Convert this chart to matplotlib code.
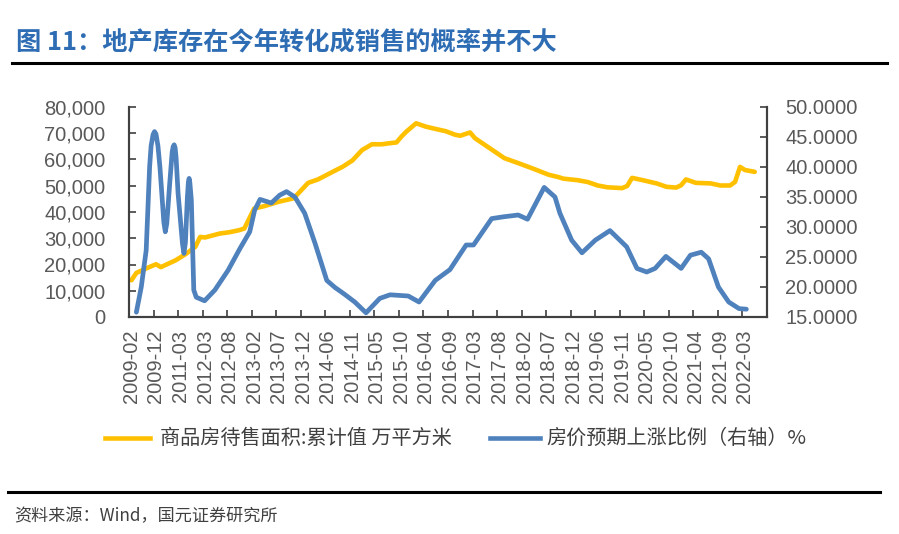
import matplotlib
matplotlib.use("Agg")
import matplotlib.pyplot as plt
from matplotlib.lines import Line2D
from matplotlib.ticker import FuncFormatter, FixedLocator

plt.rcParams['font.family'] = ['Noto Sans CJK SC', 'DejaVu Sans']

# ---- data ----
tick_labels = ["2009-02", "2009-12", "2011-03", "2012-03", "2012-08", "2013-02", "2013-07",
               "2013-12", "2014-06", "2014-11", "2015-05", "2015-10", "2016-04", "2016-09",
               "2017-03", "2017-08", "2018-02", "2018-07", "2018-12", "2019-06", "2019-11",
               "2020-05", "2020-10", "2021-04", "2021-09", "2022-03"]
n_categories = 130
label_step = 5

# inventory (left axis), category index -> value (10k sqm)
inv_cat = [0, 1, 3, 5, 6, 9, 11, 13, 14, 15, 18, 20, 22, 23, 25, 27, 30, 33, 34, 36, 38, 41,
           43, 45, 47, 49, 51, 53, 54, 55, 56, 58, 60, 63, 64, 66, 67, 69, 70, 73, 76, 79,
           82, 85, 87, 88, 91, 93, 95, 97, 100, 101, 102, 104, 107, 109, 111, 112, 113, 115,
           118, 120, 122, 123, 124, 125, 127]
inv_val = [14000, 16800, 18500, 20100, 19000, 21600, 23900, 26700, 30500, 30300, 31800, 32300,
           33100, 33700, 41300, 42200, 43900, 45200, 47100, 51100, 52400, 55300, 57200, 59600,
           63600, 65800, 65800, 66300, 66500, 68700, 70600, 73800, 72500, 71200, 70800, 69400,
           69050, 70300, 68100, 64300, 60500, 58500, 56400, 54200, 53300, 52700, 52100, 51400,
           50100, 49400, 49100, 49900, 53000, 52200, 50900, 49600, 49300, 50200, 52400, 51100,
           50900, 50100, 50100, 51500, 57200, 56000, 55300]

# expected price rise share (right axis), category index -> %
exp_cat = [1, 2, 3, 3.7, 4.0, 4.4, 4.7, 5.0, 5.4, 5.8, 6.6, 6.9, 7.2, 7.8, 8.3, 8.5, 8.7, 8.9,
           9.1, 9.5, 10.4, 10.7, 11.0, 11.4, 11.6, 11.75, 11.9, 12.2, 12.7, 13.2, 14.9, 17,
           19.7, 22.1, 24.1, 25.1, 26.2, 28.5, 30.2, 31.6, 33.3, 35.3, 37.4, 39.8, 41.5, 43.4,
           45.5, 47.8, 50.6, 52.7, 56.4, 58.6, 61.9, 64.9, 68.2, 69.7, 73.4, 75.8, 78.8, 80.7,
           84.1, 86.3, 87.3, 89.7, 91.8, 94.5, 97.5, 100.9, 103, 105, 106.7, 108.9, 112, 113.9,
           116.1, 117.6, 119.6, 121.7, 123.8, 125.3]
exp_val = [15.8, 20.0, 26.1, 40.0, 43.5, 45.4, 45.9, 45.5, 43.5, 40.0, 30.8, 29.2, 30.6, 37.3,
           42.5, 43.4, 43.7, 43.2, 41.5, 35.6, 27.2, 25.6, 27.5, 35.0, 37.5, 38.1, 37.4, 34.5,
           19.5, 18.3, 17.7, 19.5, 22.8, 26.4, 29.2, 32.8, 34.6, 34.0, 35.3, 35.9, 35.0, 32.3,
           27.3, 21.1, 19.9, 18.8, 17.5, 15.7, 18.1, 18.7, 18.5, 17.5, 21.1, 22.9, 27.0, 27.0,
           31.4, 31.7, 32.0, 31.3, 36.6, 35.0, 32.3, 27.8, 25.7, 27.8, 29.4, 26.7, 23.1, 22.5,
           23.1, 25.1, 23.1, 25.3, 25.8, 24.7, 20.0, 17.5, 16.4, 16.3]

title = "图 11：地产库存在今年转化成销售的概率并不大"
legend_inv = "商品房待售面积:累计值 万平方米"
legend_exp = "房价预期上涨比例（右轴）%"
source = "资料来源：Wind，国元证券研究所"

# ---- style ----
YELLOW = "#FFC000"
BLUE = "#4F81BD"
TICK_COLOR = "#595959"
AXIS_COLOR = "#404040"

W, H = 899, 534
fig = plt.figure(figsize=(W / 100, H / 100), dpi=100)
ax = fig.add_axes([129 / W, 1 - 317 / H, (767 - 129) / W, (317 - 107) / H])
ax2 = ax.twinx()

ax.plot(inv_cat, inv_val, color=YELLOW, lw=3.3, solid_joinstyle='round', solid_capstyle='round', zorder=2)
ax2.plot(exp_cat, exp_val, color=BLUE, lw=3.4, solid_joinstyle='round', solid_capstyle='round', zorder=3)

ax.set_xlim(-0.5, n_categories - 0.5)
ax.set_ylim(0, 80000)
ax2.set_ylim(15, 50)
ax.set_yticks(range(0, 80001, 10000))
ax2.set_yticks(range(15, 51, 5))
ax.yaxis.set_major_formatter(FuncFormatter(lambda v, p: f"{int(v):,}"))
ax2.yaxis.set_major_formatter(FuncFormatter(lambda v, p: f"{v:.4f}"))

major = [i * label_step for i in range(len(tick_labels))]
ax.xaxis.set_major_locator(FixedLocator(major))
ax.set_xticklabels(tick_labels, rotation=90, fontfamily='Liberation Sans',
                   fontsize=14.5, color=TICK_COLOR)
minor = [i * label_step - 0.5 for i in range(1, len(tick_labels) + 1)]
ax.xaxis.set_minor_locator(FixedLocator(minor))
ax.tick_params(axis='x', which='major', length=0, pad=9)
ax.tick_params(axis='x', which='minor', direction='in', length=5, width=1.2, color=AXIS_COLOR)

ax.tick_params(axis='y', direction='in', length=5, width=1.2, color=AXIS_COLOR,
               labelsize=14.5, labelcolor=TICK_COLOR, pad=17)
ax2.tick_params(axis='y', direction='in', length=5, width=1.2, color=AXIS_COLOR,
                labelsize=14.5, labelcolor=TICK_COLOR, pad=13)
for lab in ax.get_yticklabels() + ax2.get_yticklabels():
    lab.set_fontfamily('Liberation Sans')

for a in (ax, ax2):
    a.spines['top'].set_visible(False)
    for s in ('left', 'right', 'bottom'):
        a.spines[s].set_color(AXIS_COLOR)
        a.spines[s].set_linewidth(1.5)
    a.patch.set_visible(False)

# title and rules
fig.text(16 / W, 1 - 42 / H, title, fontsize=18.2, fontweight='bold', color="#2E6DB4",
         va='center', ha='left')
fig.add_artist(Line2D([12 / W, 887 / W], [1 - 63 / H, 1 - 63 / H], color='black', lw=2.2))
fig.add_artist(Line2D([8 / W, 880 / W], [1 - 492 / H, 1 - 492 / H], color='black', lw=2.2))
fig.text(14 / W, 1 - 516 / H, source, fontsize=12.3, color="#404040", va='center', ha='left')

# legend
ly = 1 - 438 / H
fig.add_artist(Line2D([105 / W, 150 / W], [ly, ly], color=YELLOW, lw=3.3))
fig.text(160 / W, ly, legend_inv, fontsize=14.5, color="#404040", va='center', ha='left')
fig.add_artist(Line2D([490 / W, 540 / W], [ly, ly], color=BLUE, lw=3.3))
fig.text(546 / W, ly, legend_exp, fontsize=14.5, color="#404040", va='center', ha='left')

fig.savefig("out.png", dpi=100)
